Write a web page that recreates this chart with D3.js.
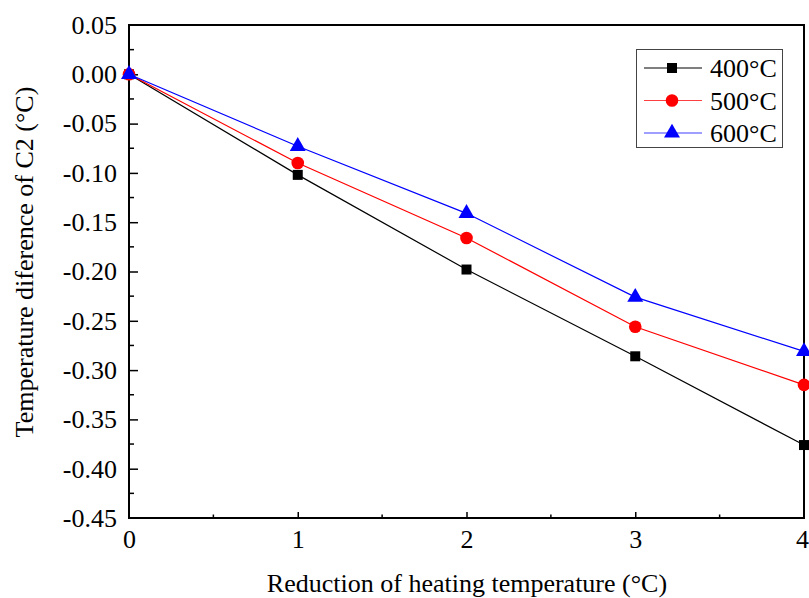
<!DOCTYPE html>
<html>
<head>
<meta charset="utf-8">
<script src="https://cdn.jsdelivr.net/npm/d3@7"></script>
<style>
  body { margin: 0; background: #fff; }
  text { font-family: "Liberation Serif", "Times New Roman", serif; }
</style>
</head>
<body>
<div id="container"></div>
<script>
let w = 809;
let h = 598;

// data
let reductions = [0, 1, 2, 3, 4];
let series400 = [0, -0.102, -0.198, -0.286, -0.376];
let series500 = [0, -0.090, -0.166, -0.256, -0.315];
let series600 = [0, -0.073, -0.141, -0.226, -0.281];
let seriesNames = ["400°C", "500°C", "600°C"];
let yTicks = [0.05, 0, -0.05, -0.1, -0.15, -0.2, -0.25, -0.3, -0.35, -0.4, -0.45];
let xTicks = [0, 1, 2, 3, 4];

let plotLeft = 129, plotRight = 804, plotTop = 25, plotBottom = 518;
let fontSize = 26;

let viz = d3.select("#container")
  .append("svg")
    .attr("width", w)
    .attr("height", h)
    .style("background-color", "white");

let xScale = d3.scaleLinear().domain([0, 4]).range([plotLeft, plotRight]);
let yScale = d3.scaleLinear().domain([-0.45, 0.05]).range([plotBottom, plotTop]);

// minor ticks
let xMinor = d3.range(0.5, 4, 1);
let yMinor = d3.range(-0.425, 0.05, 0.05);

// plain hyphen instead of d3's unicode minus, like the original
let fmt2 = d3.format(".2f");
let yFormat = (d) => fmt2(d).replace("\u2212", "-");

let xAxis = d3.axisBottom(xScale).tickValues(xTicks).tickFormat(d3.format("d"))
  .tickSizeInner(-6).tickSizeOuter(0).tickPadding(12);
let yAxis = d3.axisLeft(yScale).tickValues(yTicks).tickFormat(yFormat)
  .tickSizeInner(-9).tickSizeOuter(0).tickPadding(12);

let xAxisGroup = viz.append("g").attr("transform", "translate(0," + plotBottom + ")").call(xAxis);
let yAxisGroup = viz.append("g").attr("transform", "translate(" + plotLeft + ",0)").call(yAxis);

[xAxisGroup, yAxisGroup].forEach((g) => {
  g.attr("font-family", "'Liberation Serif', 'Times New Roman', serif").attr("font-size", fontSize);
  g.select(".domain").remove();
  g.selectAll(".tick line").attr("stroke", "#000").attr("stroke-width", 1.5);
  g.selectAll(".tick text").attr("fill", "#000");
});
xAxisGroup.selectAll(".tick").filter((d) => d === 0 || d === 4).select("line").remove();
// keep the last label inside the page
xAxisGroup.selectAll(".tick").filter((d) => d === 4).select("text").attr("dx", -2);
yAxisGroup.selectAll(".tick").filter((d) => d === -0.45 || d === 0.05).select("line").remove();

viz.append("g").selectAll("line").data(xMinor).enter().append("line")
  .attr("x1", (d) => xScale(d)).attr("x2", (d) => xScale(d))
  .attr("y1", plotBottom).attr("y2", plotBottom - 3.5)
  .attr("stroke", "#000").attr("stroke-width", 1.5);
viz.append("g").selectAll("line").data(yMinor).enter().append("line")
  .attr("x1", plotLeft).attr("x2", plotLeft + 5)
  .attr("y1", (d) => yScale(d)).attr("y2", (d) => yScale(d))
  .attr("stroke", "#000").attr("stroke-width", 1.5);

// frame
viz.append("rect")
  .attr("x", plotLeft).attr("y", plotTop)
  .attr("width", plotRight - plotLeft).attr("height", plotBottom - plotTop)
  .attr("fill", "none").attr("stroke", "#000").attr("stroke-width", 2);

let allSeries = [
  { name: seriesNames[0], values: series400, color: "#000000", shape: d3.symbolSquare, size: 100 },
  { name: seriesNames[1], values: series500, color: "#ff0000", shape: d3.symbolCircle, size: 125 },
  { name: seriesNames[2], values: series600, color: "#0000ff", shape: d3.symbolTriangle, size: 110 }
];

let line = d3.line()
  .x((d, i) => xScale(reductions[i]))
  .y((d) => yScale(d));

allSeries.forEach((s) => {
  viz.append("path")
    .datum(s.values)
    .attr("d", line)
    .attr("fill", "none")
    .attr("stroke", s.color)
    .attr("stroke-width", 1.2);
  viz.append("g").selectAll("path").data(s.values).enter().append("path")
    .attr("d", d3.symbol().type(s.shape).size(s.size))
    .attr("transform", (d, i) => "translate(" + xScale(reductions[i]) + "," + yScale(d) + ")")
    .attr("fill", s.color);
});

// legend
let legend = viz.append("g");
legend.append("rect")
  .attr("x", 636.5).attr("y", 49.5).attr("width", 146).attr("height", 98)
  .attr("fill", "white").attr("stroke", "#444").attr("stroke-width", 1);
allSeries.forEach((s, i) => {
  let y = 68 + i * 32.5;
  legend.append("line")
    .attr("x1", 644).attr("x2", 702).attr("y1", y).attr("y2", y)
    .attr("stroke", s.color).attr("stroke-width", 1.2).attr("opacity", i === 0 ? 1 : 0.75);
  legend.append("path")
    .attr("d", d3.symbol().type(s.shape).size(s.size))
    .attr("transform", "translate(672," + y + ")")
    .attr("fill", s.color);
  legend.append("text")
    .attr("x", 710).attr("y", y + 9)
    .attr("font-size", fontSize)
    .text(s.name);
});

// axis titles
viz.append("text")
  .attr("x", 467).attr("y", 592)
  .attr("text-anchor", "middle")
  .attr("font-size", fontSize)
  .text("Reduction of heating temperature (°C)");

viz.append("text")
  .attr("transform", "translate(33,262) rotate(-90)")
  .attr("text-anchor", "middle")
  .attr("font-size", fontSize)
  .text("Temperature diference of C2 (°C)");
</script>
</body>
</html>
